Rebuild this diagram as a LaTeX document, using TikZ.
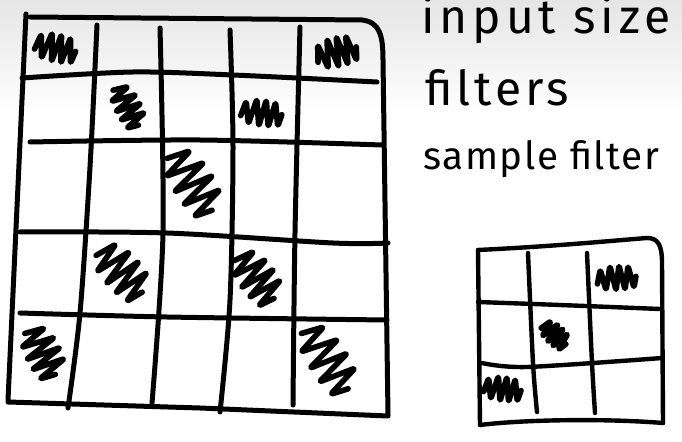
\documentclass[tikz,border=0pt]{standalone}
\usepackage{fontspec}
\setsansfont{Fira Sans}

\tikzset{every picture/.style={line width=0.75pt}}
\tikzset{
  pen/.style={line width=3.75pt, line cap=round, line join=round},
  thinpen/.style={line width=3.3pt, line cap=round, line join=round},
  scrib/.style={line width=4.2pt, line cap=round, line join=round, rounded corners=2pt},
  hand/.style={anchor=base west, inner sep=0.75pt, font=\sffamily\fontsize{36}{36}\selectfont}
}
% zigzag hatch: centre x, centre y, angle, length, height
\newcommand{\scribble}[5]{%
  \draw [scrib, shift={(#1,#2)}, rotate=#3, xscale=#4/2, yscale=#5/2]
    (-1,0.3) -- (-0.8,-0.7) -- (-0.6,0.8) -- (-0.3,-0.9) -- (-0.1,0.9)
    -- (0.15,-0.9) -- (0.35,0.9) -- (0.6,-0.8) -- (0.8,0.8) -- (0.95,0);
}

\begin{document}
\begin{tikzpicture}[x=0.75pt,y=0.75pt,yscale=-1,xscale=1]
\useasboundingbox (0,0) rectangle (682,442);
\fill [white] (0,0) rectangle (682,442);
\shade [top color=black!10, bottom color=white] (0,0) rectangle (682,115);

%Big grid: outline
\draw [pen] (26,14) -- (8,400) ;
\draw [pen] (30,17) -- (362,20) .. controls (380,22) and (383,36) .. (383,60) -- (388,415) ;
\draw [pen] (8,402) -- (200,408) -- (388,416) ;
%Big grid: rows
\draw [pen] plot [smooth] coordinates {(22,78) (133,72) (233,75) (377,82)} ;
\draw [pen] plot [smooth] coordinates {(30,142) (200,140) (382,145)} ;
\draw [pen] plot [smooth] coordinates {(20,232) (167,233) (333,243) (388,243)} ;
\draw [pen] plot [smooth] coordinates {(20,313) (167,317) (387,320)} ;
%Big grid: columns
\draw [pen] plot [smooth] coordinates {(97,25) (90,167) (80,313) (68,408)} ;
\draw [pen] plot [smooth] coordinates {(160,28) (163,233) (152,403)} ;
\draw [pen] plot [smooth] coordinates {(230,30) (233,147) (230,300) (220,412)} ;
\draw [pen] plot [smooth] coordinates {(300,27) (295,233) (293,405)} ;

%Big grid: hatched cells
\scribble{56}{48}{10}{42}{32}
\scribble{337}{52}{-15}{42}{34}
\scribble{128}{107}{60}{44}{30}
\scribble{262}{113}{5}{42}{30}
\scribble{193}{183}{55}{70}{46}
\scribble{122}{272}{45}{60}{44}
\scribble{257}{278}{50}{56}{42}
\scribble{43}{353}{60}{52}{40}
\scribble{328}{360}{55}{74}{44}

%Small grid: outline
\draw [thinpen] (478,250) -- (480,425) ;
\draw [thinpen] (478,250) .. controls (560,246) and (620,240) .. (647,238) .. controls (658,238) and (662,245) .. (662,263) -- (663,423) ;
\draw [thinpen] (480,425) .. controls (520,420) and (600,418) .. (663,423) ;
%Small grid: rows
\draw [thinpen] plot [smooth] coordinates {(478,302) (560,305) (660,309)} ;
\draw [thinpen] plot [smooth] coordinates {(482,363) (527,367) (662,358)} ;
%Small grid: columns
\draw [thinpen] plot [smooth] coordinates {(528,253) (533,363) (537,412)} ;
\draw [thinpen] plot [smooth] coordinates {(587,253) (592,363) (595,413)} ;

%Small grid: hatched cells
\scribble{617}{278}{-5}{40}{28}
\scribble{555}{335}{40}{30}{24}
\scribble{503}{389}{5}{38}{28}

% Text Node
\draw (420,34) node (inputsize) [hand] {\addfontfeature{LetterSpace=10}input size};
% Text Node
\draw (424,106) node (filters) [hand] {\addfontfeature{LetterSpace=8}filters};
% Text Node
\draw (422,170) node (samplefilter) [hand, font=\sffamily\fontsize{29}{29}\selectfont] {\addfontfeature{LetterSpace=4}sample filter};

\end{tikzpicture}
\end{document}
